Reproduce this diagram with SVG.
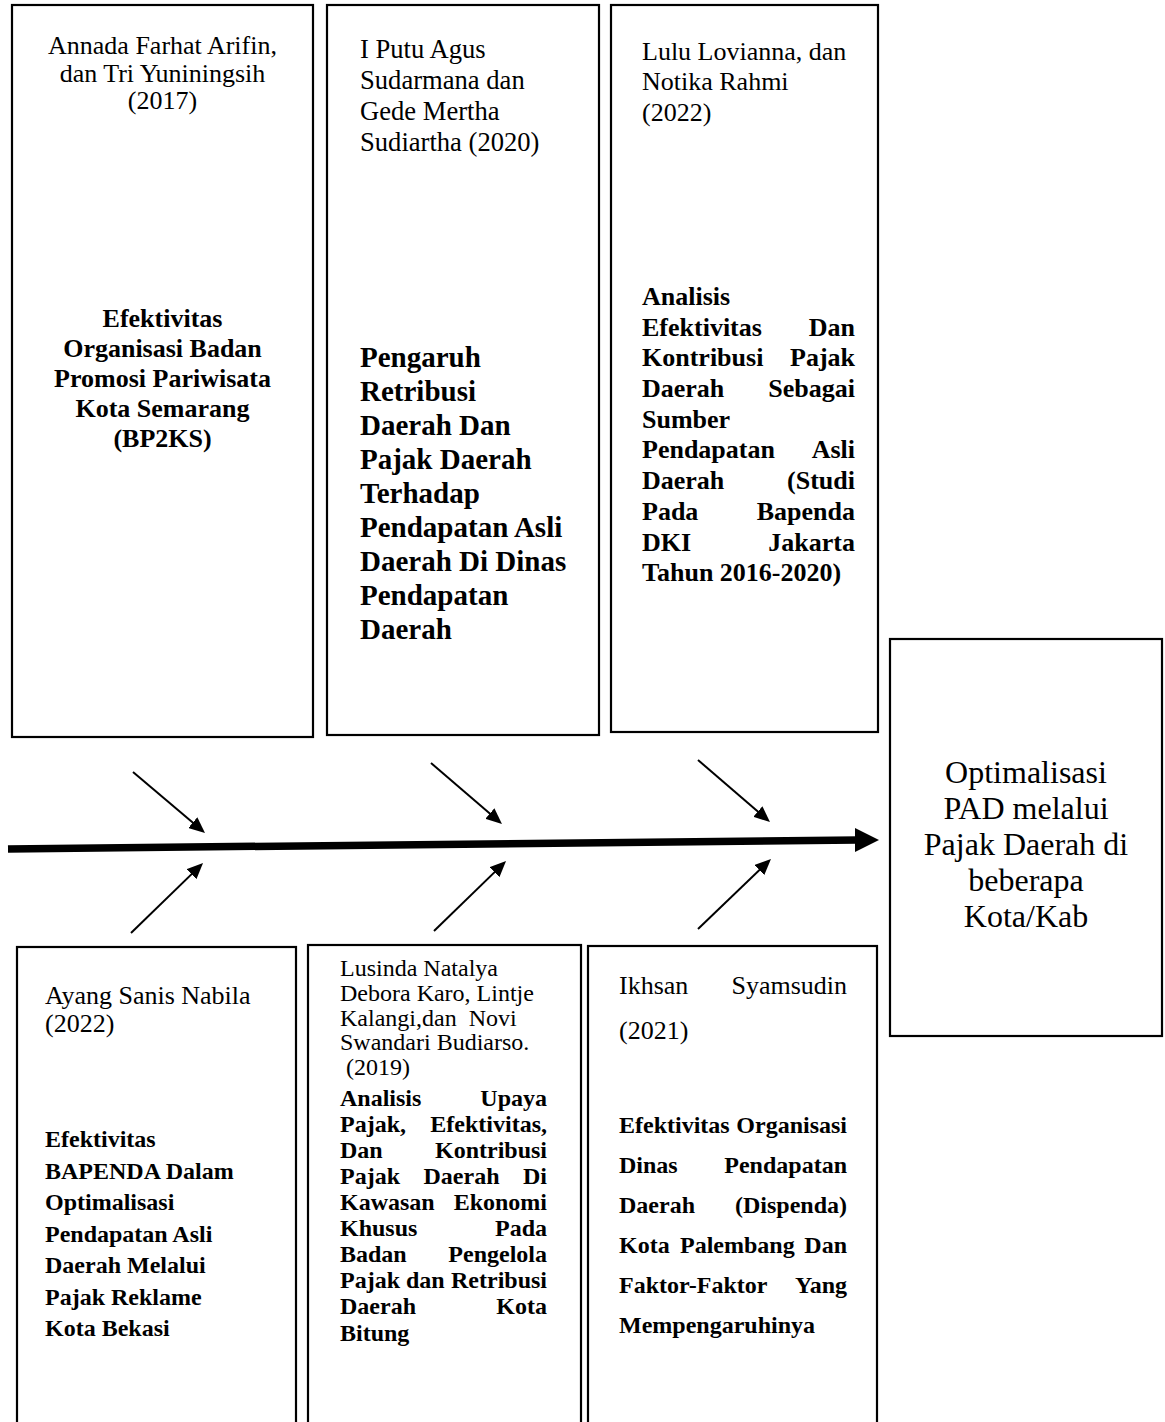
<svg xmlns="http://www.w3.org/2000/svg" width="1165" height="1422" viewBox="0 0 1165 1422">
<style>
.box{fill:#fff;stroke:#000;stroke-width:2.2}
.t{font-family:"Liberation Serif","Times New Roman",serif;fill:#000}
.r26{font-size:26px}
.r265{font-size:26.6px}
.r24{font-size:24px}
.b26{font-size:26px;font-weight:bold}
.b24{font-size:24px;font-weight:bold}
.b29{font-size:29px;font-weight:bold}
.r32{font-size:32px}
.c{text-anchor:middle}
.e{text-anchor:end}
.con{stroke:#000;stroke-width:2;fill:none}
</style>
<defs>
<marker id="ah" viewBox="0 0 16 14" refX="8" refY="7" markerWidth="16" markerHeight="14" markerUnits="userSpaceOnUse" orient="auto">
<path d="M0,0 L16,7 L0,14 z" fill="#000"/>
</marker>
</defs>

<g id="connectors">
<line class="con" x1="133" y1="772" x2="198.9" y2="827.8" marker-end="url(#ah)"/>
<line class="con" x1="431" y1="763" x2="495.9" y2="818.8" marker-end="url(#ah)"/>
<line class="con" x1="698" y1="760" x2="763.9" y2="816.8" marker-end="url(#ah)"/>
<line class="con" x1="131" y1="933" x2="197.3" y2="868.6" marker-end="url(#ah)"/>
<line class="con" x1="434" y1="931" x2="500.3" y2="866.6" marker-end="url(#ah)"/>
<line class="con" x1="698" y1="929" x2="765.2" y2="864.5" marker-end="url(#ah)"/>
<line x1="8" y1="849" x2="858" y2="840" stroke="#000" stroke-width="7.5"/>
<polygon points="855,828 879,840 855,852" fill="#000"/>
</g>

<g id="node-top1">
<rect class="box" x="12" y="5" width="301" height="732"/>
<text class="t r26 c" x="162.5" y="54">Annada Farhat Arifin,</text>
<text class="t r26 c" x="162.5" y="82">dan Tri Yuniningsih</text>
<text class="t r26 c" x="162.5" y="109">(2017)</text>
<text class="t b26 c" x="162.5" y="327">Efektivitas</text>
<text class="t b26 c" x="162.5" y="357">Organisasi Badan</text>
<text class="t b26 c" x="162.5" y="387">Promosi Pariwisata</text>
<text class="t b26 c" x="162.5" y="417">Kota Semarang</text>
<text class="t b26 c" x="162.5" y="447">(BP2KS)</text>
</g>

<g id="node-top2">
<rect class="box" x="327" y="5" width="272" height="730"/>
<text class="t r265" x="360" y="58">I Putu Agus</text>
<text class="t r265" x="360" y="89">Sudarmana dan</text>
<text class="t r265" x="360" y="120">Gede Mertha</text>
<text class="t r265" x="360" y="151">Sudiartha (2020)</text>
<text class="t b29" x="360" y="367">Pengaruh</text>
<text class="t b29" x="360" y="401">Retribusi</text>
<text class="t b29" x="360" y="435">Daerah Dan</text>
<text class="t b29" x="360" y="469">Pajak Daerah</text>
<text class="t b29" x="360" y="503">Terhadap</text>
<text class="t b29" x="360" y="537">Pendapatan Asli</text>
<text class="t b29" x="360" y="571">Daerah Di Dinas</text>
<text class="t b29" x="360" y="605">Pendapatan</text>
<text class="t b29" x="360" y="639">Daerah</text>
</g>

<g id="node-top3">
<rect class="box" x="611" y="5" width="267" height="727"/>
<text class="t r26" x="642" y="60">Lulu Lovianna, dan</text>
<text class="t r26" x="642" y="90">Notika Rahmi</text>
<text class="t r26" x="642" y="121">(2022)</text>
<text class="t b26" x="642" y="305">Analisis</text>
<text class="t b26" x="642" y="336">Efektivitas</text><text class="t b26 e" x="855" y="336">Dan</text>
<text class="t b26" x="642" y="366">Kontribusi</text><text class="t b26 e" x="855" y="366">Pajak</text>
<text class="t b26" x="642" y="397">Daerah</text><text class="t b26 e" x="855" y="397">Sebagai</text>
<text class="t b26" x="642" y="428">Sumber</text>
<text class="t b26" x="642" y="458">Pendapatan</text><text class="t b26 e" x="855" y="458">Asli</text>
<text class="t b26" x="642" y="489">Daerah</text><text class="t b26 e" x="855" y="489">(Studi</text>
<text class="t b26" x="642" y="520">Pada</text><text class="t b26 e" x="855" y="520">Bapenda</text>
<text class="t b26" x="642" y="551">DKI</text><text class="t b26 e" x="855" y="551">Jakarta</text>
<text class="t b26" x="642" y="581">Tahun 2016-2020)</text>
</g>

<g id="node-result">
<rect class="box" x="890" y="639" width="272" height="397"/>
<text class="t r32 c" x="1026" y="783">Optimalisasi</text>
<text class="t r32 c" x="1026" y="819">PAD melalui</text>
<text class="t r32 c" x="1026" y="855">Pajak Daerah di</text>
<text class="t r32 c" x="1026" y="891">beberapa</text>
<text class="t r32 c" x="1026" y="927">Kota/Kab</text>
</g>

<g id="node-bottom1">
<rect class="box" x="17" y="947" width="279" height="490"/>
<text class="t r26" x="45" y="1004">Ayang Sanis Nabila</text>
<text class="t r26" x="45" y="1032">(2022)</text>
<text class="t b24" x="45" y="1147">Efektivitas</text>
<text class="t b24" x="45" y="1178.5">BAPENDA Dalam</text>
<text class="t b24" x="45" y="1210">Optimalisasi</text>
<text class="t b24" x="45" y="1241.5">Pendapatan Asli</text>
<text class="t b24" x="45" y="1273">Daerah Melalui</text>
<text class="t b24" x="45" y="1304.5">Pajak Reklame</text>
<text class="t b24" x="45" y="1336">Kota Bekasi</text>
</g>

<g id="node-bottom2">
<rect class="box" x="308" y="945" width="273" height="490"/>
<text class="t r24" x="340" y="976">Lusinda Natalya</text>
<text class="t r24" x="340" y="1001">Debora Karo, Lintje</text>
<text class="t r24" x="340" y="1026" xml:space="preserve">Kalangi,dan  Novi</text>
<text class="t r24" x="340" y="1050">Swandari Budiarso.</text>
<text class="t r24" x="346" y="1075">(2019)</text>
<text class="t b24" x="340" y="1106">Analisis</text><text class="t b24 e" x="547" y="1106">Upaya</text>
<text class="t b24" x="340" y="1132">Pajak,</text><text class="t b24 e" x="547" y="1132">Efektivitas,</text>
<text class="t b24" x="340" y="1158">Dan</text><text class="t b24 e" x="547" y="1158">Kontribusi</text>
<text class="t b24" x="340" y="1184">Pajak</text><text class="t b24" x="423.5" y="1184">Daerah</text><text class="t b24 e" x="547" y="1184">Di</text>
<text class="t b24" x="340" y="1210">Kawasan</text><text class="t b24 e" x="547" y="1210">Ekonomi</text>
<text class="t b24" x="340" y="1236">Khusus</text><text class="t b24 e" x="547" y="1236">Pada</text>
<text class="t b24" x="340" y="1262">Badan</text><text class="t b24 e" x="547" y="1262">Pengelola</text>
<text class="t b24" x="340" y="1288">Pajak</text><text class="t b24" x="406" y="1288">dan</text><text class="t b24 e" x="547" y="1288">Retribusi</text>
<text class="t b24" x="340" y="1314">Daerah</text><text class="t b24 e" x="547" y="1314">Kota</text>
<text class="t b24" x="340" y="1341">Bitung</text>
</g>

<g id="node-bottom3">
<rect class="box" x="588" y="946" width="289" height="490"/>
<text class="t r26" x="619" y="994">Ikhsan</text><text class="t r26 e" x="847" y="994">Syamsudin</text>
<text class="t r26" x="619" y="1039">(2021)</text>
<text class="t b24" x="619" y="1133">Efektivitas</text><text class="t b24 e" x="847" y="1133">Organisasi</text>
<text class="t b24" x="619" y="1173">Dinas</text><text class="t b24 e" x="847" y="1173">Pendapatan</text>
<text class="t b24" x="619" y="1213">Daerah</text><text class="t b24 e" x="847" y="1213">(Dispenda)</text>
<text class="t b24" x="619" y="1253">Kota</text><text class="t b24" x="680" y="1253">Palembang</text><text class="t b24 e" x="847" y="1253">Dan</text>
<text class="t b24" x="619" y="1293">Faktor-Faktor</text><text class="t b24 e" x="847" y="1293">Yang</text>
<text class="t b24" x="619" y="1333">Mempengaruhinya</text>
</g>
</svg>
